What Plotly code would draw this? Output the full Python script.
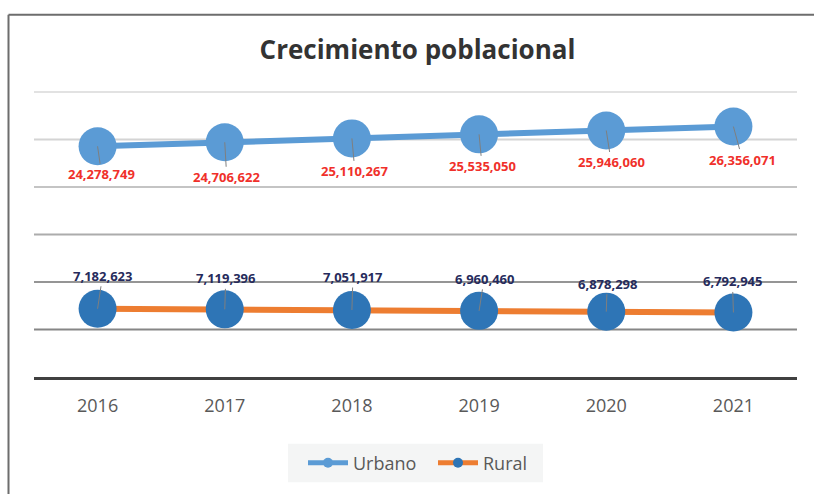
import plotly.graph_objects as go

years = ["2016", "2017", "2018", "2019", "2020", "2021"]
urbano = [24278749, 24706622, 25110267, 25535050, 25946060, 26356071]
rural = [7182623, 7119396, 7051917, 6960460, 6878298, 6792945]
grid_values = [5e6, 10e6, 15e6, 20e6, 25e6, 30e6]

# label offsets in pixels (style only)
urb_off = [(4, 28), (2, 35), (3, 33), (3, 32), (5, 32), (9, 33)]
rur_off = [(5, -33), (1, -31), (1, -33), (5, -32), (1, -28), (-1, -31)]
grid_colors = ["#868686", "#959595", "#acacac", "#c4c4c4", "#d4d4d4", "#e2e2e2"]

C_URB = "#5b9bd5"
C_RUR_LINE = "#ed7d31"
C_RUR_MK = "#2e75b6"

fig = go.Figure()
fig.add_trace(go.Scatter(x=years, y=urbano, mode="lines+markers", name="Urbano",
                         line=dict(color=C_URB, width=6),
                         marker=dict(color=C_URB, size=38, line=dict(width=0)),
                         showlegend=False, cliponaxis=False))
fig.add_trace(go.Scatter(x=years, y=rural, mode="lines+markers", name="Rural",
                         line=dict(color=C_RUR_LINE, width=6),
                         marker=dict(color=C_RUR_MK, size=38, line=dict(width=0)),
                         showlegend=False, cliponaxis=False))
# legend entries
fig.add_trace(go.Scatter(x=[None], y=[None], mode="lines+markers", name="Urbano",
                         line=dict(color=C_URB, width=5),
                         marker=dict(color=C_URB, size=10)))
fig.add_trace(go.Scatter(x=[None], y=[None], mode="lines+markers", name="Rural",
                         line=dict(color=C_RUR_LINE, width=5),
                         marker=dict(color=C_RUR_MK, size=10)))

anns = []
for i, (v, (dx, dy)) in enumerate(zip(urbano, urb_off)):
    anns.append(dict(x=i, y=v, xref="x", yref="y", text=f"{v:,}",
                     showarrow=True, arrowhead=0, arrowwidth=1, arrowcolor="#7f7f7f",
                     ax=dx, ay=dy, standoff=0,
                     font=dict(family="Open Sans", size=13, color="#f0302a", weight="bold")))
for i, (v, (dx, dy)) in enumerate(zip(rural, rur_off)):
    anns.append(dict(x=i, y=v, xref="x", yref="y", text=f"{v:,}",
                     showarrow=True, arrowhead=0, arrowwidth=1, arrowcolor="#7f7f7f",
                     ax=dx, ay=dy, standoff=0,
                     font=dict(family="Open Sans", size=13, color="#262b5c", weight="bold")))

L, R, T, B = 34, 17, 91, 112
W, H = 814, 494
pw, ph = W - L - R, H - T - B
def px(x):
    return (x - L) / pw
def py(y):
    return (H - B - y) / ph

shapes = [
    dict(type="line", xref="paper", yref="paper", x0=px(8.5), x1=px(8.5), y0=py(13.5), y1=py(520),
         line=dict(color="#6d6d6d", width=2)),
    dict(type="line", xref="paper", yref="paper", x0=px(8.5), x1=px(840), y0=py(13.5), y1=py(13.5),
         line=dict(color="#6d6d6d", width=2)),
    dict(type="rect", xref="paper", yref="paper", x0=px(288), x1=px(543), y0=py(450), y1=py(489),
         fillcolor="#f4f5f5", line=dict(width=0), layer="below"),
]
for gv, gc in zip(grid_values, grid_colors):
    shapes.append(dict(type="line", xref="paper", yref="y", x0=0, x1=1, y0=gv, y1=gv,
                       line=dict(color=gc, width=2), layer="below"))

fig.update_layout(
    width=W, height=H,
    margin=dict(l=L, r=R, t=T, b=B),
    paper_bgcolor="white", plot_bgcolor="rgba(0,0,0,0)",
    font=dict(family="Open Sans", color="#595959"),
    title=dict(text="Crecimiento poblacional", x=px(417.5), xanchor="center", xref="paper",
               y=1 - 50 / H, yanchor="middle", yref="container",
               font=dict(family="Open Sans", size=26, color="#333333", weight="bold")),
    xaxis=dict(type="category", range=[-0.5, 5.5], showgrid=False, zeroline=False,
               showline=True, linecolor="#404040", linewidth=3,
               ticks="", ticklabelstandoff=10,
               tickfont=dict(family="Open Sans", size=18, color="#595959")),
    yaxis=dict(range=[0, 30.1e6], dtick=5e6, showticklabels=False, zeroline=False,
               showgrid=False, showline=False),
    legend=dict(orientation="h", x=px(433), xanchor="center", y=py(469.5),
                yanchor="middle", bgcolor="rgba(0,0,0,0)", borderwidth=0,
                font=dict(family="Open Sans", size=18, color="#595959"),
                itemwidth=40, entrywidth=75, entrywidthmode="pixels"),
    annotations=anns, shapes=shapes,
)

fig.write_html("out.html")
